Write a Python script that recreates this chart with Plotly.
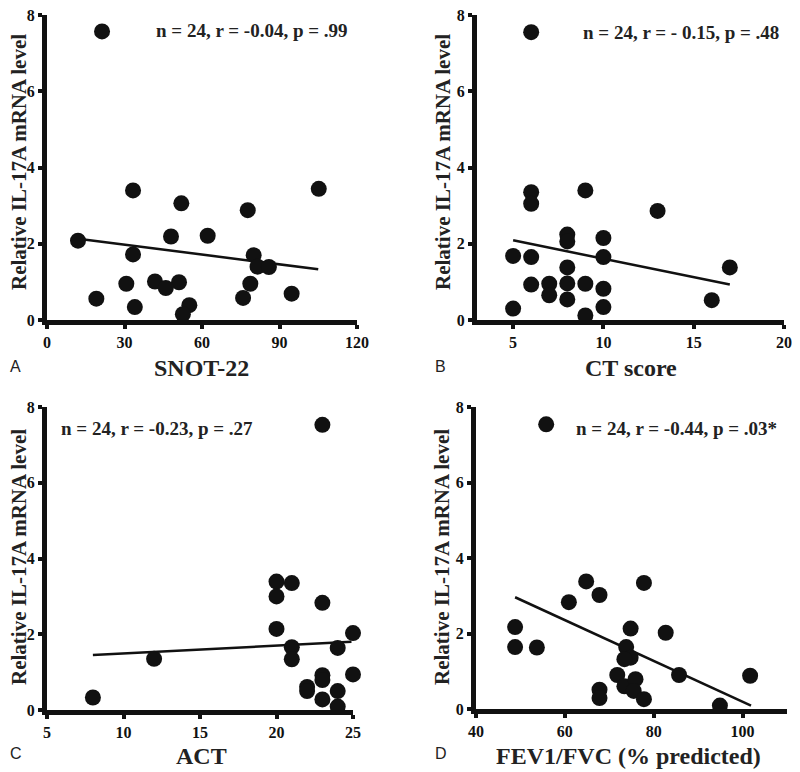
import plotly.graph_objects as go

# page body has an 8px margin: the figure's top-left sits at (8, 8) in the window
OFF = 8
W, H = 800 - OFF, 772 - OFF

# ---------------- data ----------------
snot_x = [21.3, 33.3, 105.2, 52, 77.7, 12, 48, 62.2, 33.3, 80, 81.5, 85.9,
          30.7, 41.8, 51.1, 46, 78.7, 19.1, 75.9, 94.7, 34, 55.1, 52.6]
snot_y = [7.57, 3.40, 3.44, 3.06, 2.88, 2.08, 2.19, 2.21, 1.72, 1.70, 1.40, 1.39,
          0.95, 1.01, 0.99, 0.84, 0.95, 0.56, 0.58, 0.69, 0.34, 0.39, 0.15]
snot_fit_x = [12, 105]
snot_fit_y = [2.13, 1.33]

ct_x = [6, 6, 6, 9, 13, 8, 8, 10, 5, 6, 10, 8, 17, 6, 7, 7, 8, 9, 10, 8, 16, 5, 10, 9]
ct_y = [7.55, 3.35, 3.05, 3.40, 2.86, 2.24, 2.06, 2.15, 1.68, 1.65, 1.65, 1.38, 1.38,
        0.93, 0.95, 0.65, 0.96, 0.95, 0.82, 0.54, 0.52, 0.30, 0.34, 0.12]
ct_fit_x = [5, 17]
ct_fit_y = [2.09, 0.93]

act_x = [23, 20, 21, 20, 23, 20, 25, 21, 24, 21, 12, 23, 23, 25, 22, 22, 24, 8, 23, 24]
act_y = [7.53, 3.39, 3.35, 3.0, 2.83, 2.14, 2.03, 1.66, 1.64, 1.34, 1.35, 0.92, 0.79,
         0.94, 0.61, 0.50, 0.50, 0.33, 0.28, 0.09]
act_fit_x = [8, 24.9]
act_fit_y = [1.45, 1.80]

fev_x = [55.8, 64.8, 77.8, 67.8, 60.9, 48.8, 74.8, 82.7, 48.8, 53.7, 73.8, 74.8,
         73.4, 85.7, 101.7, 71.8, 73.4, 75.9, 75.5, 67.8, 67.8, 77.8, 94.9]
fev_y = [7.54, 3.38, 3.34, 3.02, 2.83, 2.17, 2.13, 2.02, 1.64, 1.63, 1.64, 1.36,
         1.32, 0.90, 0.88, 0.90, 0.60, 0.79, 0.48, 0.51, 0.29, 0.26, 0.09]
fev_fit_x = [48.8, 101.9]
fev_fit_y = [2.96, 0.09]

panel_letters = ["A", "B", "C", "D"]
x_titles = ["SNOT-22", "CT score", "ACT", "FEV1/FVC (% predicted)"]
y_title = "Relative IL-17A mRNA level"
stats = ["n = 24, r = -0.04, p = .99", "n = 24, r = - 0.15, p = .48",
         "n = 24, r = -0.23, p = .27", "n = 24, r = -0.44, p = .03*"]
x_ranges = [[0, 120], [3, 20], [5, 25], [40, 110]]
x_ticks = [[0, 30, 60, 90, 120], [5, 10, 15, 20], [5, 10, 15, 20, 25], [40, 60, 80, 100]]
y_ticks = [0, 2, 4, 6, 8]

series = [(snot_x, snot_y, snot_fit_x, snot_fit_y),
          (ct_x, ct_y, ct_fit_x, ct_fit_y),
          (act_x, act_y, act_fit_x, act_fit_y),
          (fev_x, fev_y, fev_fit_x, fev_fit_y)]

# ---------------- layout geometry (window pixels) ----------------
boxes = [(47, 357, 15, 320), (477, 784, 15, 320), (47, 353, 407, 710), (476, 787, 407, 709)]
ytitle_pos = [(19, 162), (443, 162), (19, 557), (442, 557)]
xtitle_pos = [(201, 368), (631, 368), (201, 756), (628, 756)]
letter_pos = [(8, 366), (433, 366), (8, 753), (433, 753)]
stat_pos = [(154, 31), (581, 32), (59, 428), (574, 428)]

def px(x):
    return (x - OFF) / W

def py(y):
    return 1 - (y - OFF) / H

SERIF = "Liberation Serif"
fig = go.Figure()
layout = dict(width=W, height=H, margin=dict(l=0, r=0, t=0, b=0, pad=0), template="none",
              paper_bgcolor="white", plot_bgcolor="white", showlegend=False)
annotations = []

for i, (xs, ys, fx, fy) in enumerate(series):
    n = "" if i == 0 else str(i + 1)
    xa, ya = "x" + n, "y" + n
    fig.add_trace(go.Scatter(x=fx, y=fy, mode="lines", xaxis=xa, yaxis=ya,
                             line=dict(color="#111", width=2.5), hoverinfo="skip"))
    fig.add_trace(go.Scatter(x=xs, y=ys, mode="markers", xaxis=xa, yaxis=ya,
                             cliponaxis=False,
                             marker=dict(size=16, color="#111", line=dict(width=0))))
    l, r, t, b = boxes[i]
    layout["xaxis" + n] = dict(domain=[px(l), px(r)], range=x_ranges[i],
                               tickvals=x_ticks[i], anchor=ya)
    layout["yaxis" + n] = dict(domain=[py(b), py(t)], range=[0, 8],
                               tickvals=y_ticks, anchor=xa)
    annotations.append(dict(x=px(ytitle_pos[i][0]), y=py(ytitle_pos[i][1]),
                            xref="paper", yref="paper", text="<b>" + y_title + "</b>",
                            textangle=-90, showarrow=False, xanchor="center", yanchor="middle",
                            borderpad=0,
                            font=dict(family=SERIF, size=21, color="#222")))
    annotations.append(dict(x=px(xtitle_pos[i][0]), y=py(xtitle_pos[i][1]),
                            xref="paper", yref="paper", text="<b>" + x_titles[i] + "</b>",
                            showarrow=False, xanchor="center", yanchor="middle",
                            font=dict(family=SERIF, size=24, color="#222")))
    annotations.append(dict(x=px(letter_pos[i][0]), y=py(letter_pos[i][1]),
                            xref="paper", yref="paper", text=panel_letters[i],
                            showarrow=False, xanchor="left", yanchor="middle",
                            font=dict(family="Liberation Sans", size=16, color="#222")))
    annotations.append(dict(x=px(stat_pos[i][0]), y=py(stat_pos[i][1]),
                            xref="paper", yref="paper", text="<b>" + stats[i] + "</b>",
                            showarrow=False, xanchor="left", yanchor="middle",
                            font=dict(family=SERIF, size=19, color="#222")))

layout["annotations"] = annotations
fig.update_layout(**layout)
axis_style = dict(showgrid=False, zeroline=False, showline=True, linecolor="#111",
                  linewidth=5, ticks="outside", ticklen=4, tickwidth=4,
                  tickcolor="#111", layer="above traces", ticklabeloverflow="allow",
                  tickfont=dict(family=SERIF, size=16, color="#111", weight="bold"))
fig.update_xaxes(**axis_style)
fig.update_yaxes(**axis_style)
fig.write_html("out.html")
